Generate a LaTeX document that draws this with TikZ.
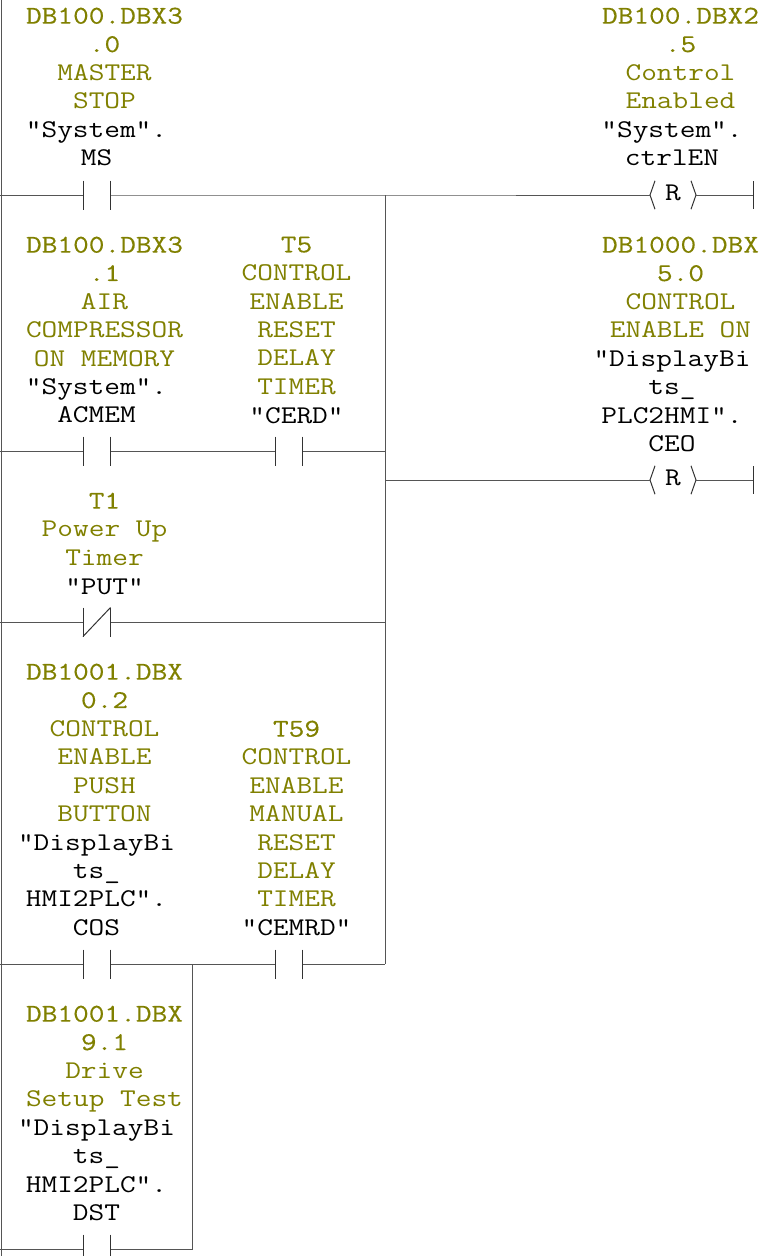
\documentclass[tikz,border=0pt]{standalone}
\usepackage{fontspec}
\newfontfamily\labelfont[FakeStretch=1.195]{Latin Modern Mono}
\newfontfamily\addrfont[FakeStretch=1.195, FakeBold=0.35]{Latin Modern Mono}
\definecolor{oper}{HTML}{808000}
\definecolor{wire}{HTML}{555555}
\tikzset{
	addr/.style={anchor=north, inner sep=0pt, align=center, color=oper},
	symb/.style={anchor=north, inner sep=0pt, align=center, color=black},
	contact/.style={inner sep=0pt, outer sep=0pt, minimum width=27.5pt, minimum height=29pt},
	coil/.style={inner sep=0pt, outer sep=0pt, minimum width=46pt, minimum height=28pt,
		execute at begin node={}, execute at end node={}},
	plate/.style={line width=1pt, color=black!80},
	rung/.style={line width=1pt, color=wire}
}
\newcommand{\nocontact}[2]{\node[contact] (#1) at (#2) {};
	\draw[plate] (#1.north west)--(#1.south west) (#1.north east)--(#1.south east);}
\newcommand{\nccontact}[2]{\nocontact{#1}{#2}
	\draw[plate] (#1.south west)--(#1.north east);}
\newcommand{\rcoil}[2]{\node[coil] (#1) at (#2) {R};
	\draw[plate] ([xshift=5pt]#1.north west)--(#1.west)--([xshift=5pt]#1.south west);
	\draw[plate] ([xshift=-5pt]#1.north east)--(#1.east)--([xshift=-5pt]#1.south east);}
\newcommand{\ad}[1]{{\addrfont #1}}
\begin{document}
\begin{tikzpicture}[x=1pt, y=-1pt, font=\labelfont\fontsize{25.5}{28.4}\selectfont,
	execute at begin node=\strut, execute at end node=\strut]
	\useasboundingbox (0,0) rectangle (762,1256);
	% left rail
	\coordinate (top) at (1,0);
	\coordinate (bot) at (1,1256);
	\draw[rung] (top)--(bot);
	% labels
	\node[addr] (a_ms) at (104.5,7.5) {\ad{DB100.DBX3}\\\ad{.0}\\MASTER\\STOP};
	\node[symb] (s_ms) at (96.5,121.5) {"System".\\MS};
	\node[addr] (a_en) at (680.5,7.5) {\ad{DB100.DBX2}\\\ad{.5}\\Control\\Enabled};
	\node[symb] (s_en) at (672,121.5) {"System".\\ctrlEN};
	\node[addr] (a_acm) at (104.5,236.5) {\ad{DB100.DBX3}\\\ad{.1}\\AIR\\COMPRESSOR\\ON MEMORY};
	\node[symb] (s_acm) at (96.5,378.5) {"System".\\ACMEM};
	\node[addr] (a_cerd) at (296.5,236.5) {\ad{T5}\\CONTROL\\ENABLE\\RESET\\DELAY\\TIMER};
	\node[symb] (s_cerd) at (296.5,403.5) {"CERD"};
	\node[addr] (a_ceo) at (680.5,236.5) {\ad{DB1000.DBX}\\\ad{5.0}\\CONTROL\\ENABLE ON};
	\node[symb] (s_ceo) at (672,350.5) {"DisplayBi\\ts\_\\PLC2HMI".\\CEO};
	\node[addr] (a_put) at (104.5,492.5) {\ad{T1}\\Power Up\\Timer};
	\node[symb] (s_put) at (104.5,574) {"PUT"};
	\node[addr] (a_cos) at (104.5,663.5) {\ad{DB1001.DBX}\\\ad{0.2}\\CONTROL\\ENABLE\\PUSH\\BUTTON};
	\node[symb] (s_cos) at (96.5,834) {"DisplayBi\\ts\_\\HMI2PLC".\\COS};
	\node[addr] (a_cemrd) at (296.5,720.5) {\ad{T59}\\CONTROL\\ENABLE\\MANUAL\\RESET\\DELAY\\TIMER};
	\node[symb] (s_cemrd) at (296.5,915.5) {"CEMRD"};
	\node[addr] (a_dst) at (104.5,1005.5) {\ad{DB1001.DBX}\\\ad{9.1}\\Drive\\Setup Test};
	\node[symb] (s_dst) at (96.5,1119.5) {"DisplayBi\\ts\_\\HMI2PLC".\\DST};
	% contacts and coils
	\nocontact{c_ms}{96.75,195}
	\nocontact{c_acm}{96.75,451}
	\nocontact{c_cerd}{288.75,451}
	\nccontact{c_put}{96.75,622}
	\nocontact{c_cos}{96.75,964}
	\nocontact{c_cemrd}{288.75,964}
	\nocontact{c_dst}{96.75,1249}
	\rcoil{r_en}{673,195}
	\rcoil{r_ceo}{673,480}
	% rung points
	\coordinate (l_a) at (0,195);
	\coordinate (l_b) at (0,451);
	\coordinate (l_c) at (0,622);
	\coordinate (l_d) at (0,964);
	\coordinate (l_e) at (0,1249);
	\coordinate (j_a) at (385,195);
	\coordinate (j_b) at (385,451);
	\coordinate (j_c) at (385,480);
	\coordinate (j_d) at (385,622);
	\coordinate (j_e) at (385,964);
	\coordinate (k_a) at (192.5,964);
	\coordinate (k_b) at (192.5,1249);
	\coordinate (e_a) at (753,195);
	\coordinate (e_b) at (753,480);
	% rungs
	\draw[rung] (l_a)--(c_ms) (c_ms)--(j_a)--(r_en) (r_en)--(e_a);
	\draw[rung] (l_b)--(c_acm) (c_acm)--(c_cerd) (c_cerd)--(j_b);
	\draw[rung] (j_c)--(r_ceo) (r_ceo)--(e_b);
	\draw[rung] (l_c)--(c_put) (c_put)--(j_d);
	\draw[rung] (l_d)--(c_cos) (c_cos)--(k_a)--(c_cemrd) (c_cemrd)--(j_e);
	\draw[rung] (l_e)--(c_dst) (c_dst)--(k_b);
	\draw[rung] (j_a)--(j_e);
	\draw[rung] (k_a)--(k_b);
	\draw[plate] ([yshift=14pt]e_a)--([yshift=-14pt]e_a);
	\draw[plate] ([yshift=14pt]e_b)--([yshift=-14pt]e_b);
\end{tikzpicture}
\end{document}
